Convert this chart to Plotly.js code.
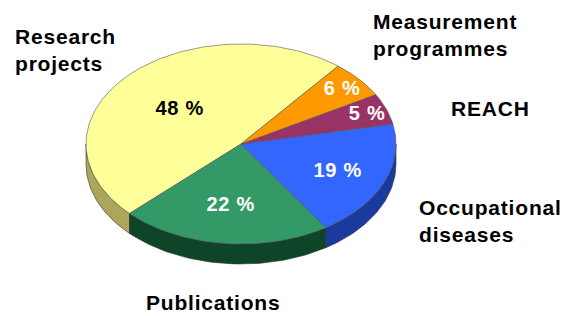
<!DOCTYPE html>
<html>
<head>
<meta charset="utf-8">
<script src="https://cdn.plot.ly/plotly-3.0.1.min.js"></script>
<style>
html,body{margin:0;padding:0;background:#fff;}
#chart{width:570px;height:316px;}
#chart .annotation-text{letter-spacing:0.8px;}
</style>
</head>
<body>
<div id="chart"></div>
<script>
// ---- data ----
var categories = ["Research projects", "Publications", "Occupational diseases", "REACH", "Measurement programmes"];
var values = [48, 22, 19, 5, 6];
var valueLabels = ["48 %", "22 %", "19 %", "5 %", "6 %"];
var categoryLabels = ["Research<br>projects", "Publications", "Occupational<br>diseases", "REACH", "Measurement<br>programmes"];

// ---- styles / layout ----
var topColors = ["#FFFF99", "#339966", "#3366FF", "#993366", "#FF9900"];
var sideColors = ["#ABA65A", "#0E4428", "#1B3A9E", "#5A1E3C", "#A86400"];
var valueFontColors = ["#000000", "#FFFFFF", "#FFFFFF", "#FFFFFF", "#FFFFFF"];
var labelRadius = [0.53, 0.6, 0.68, 0.87, 0.86];
var categoryPos = [[13, 50, "left"], [144, 302, "left"], [417, 221, "left"], [449, 108, "left"], [371, 35, "left"]];

var cx = 241, cy = 144, rx = 155, ry = 100, depth = 20;
var startDeg = 51.2;

function pt(deg, dy) {
  var r = deg * Math.PI / 180;
  return [cx + rx * Math.cos(r), cy - ry * Math.sin(r) + (dy || 0)];
}
function arc(a, b, dy) {
  var xs = [], ys = [], n = Math.max(4, Math.ceil(Math.abs(b - a) / 1.5));
  for (var i = 0; i <= n; i++) {
    var p = pt(a + (b - a) * i / n, dy);
    xs.push(p[0]); ys.push(p[1]);
  }
  return [xs, ys];
}

var total = values.reduce(function (s, v) { return s + v; }, 0);
var sideTraces = [], topTraces = [], annotations = [];
var acc = startDeg;
values.forEach(function (v, i) {
  var a = acc, b = acc + v / total * 360;
  acc = b;
  // side wall: visible where angle in [180,360] (mod 360)
  [[180, 360], [540, 720]].forEach(function (w) {
    var s = Math.max(a, w[0]), e = Math.min(b, w[1]);
    if (e > s) {
      var top = arc(s, e, 0), bot = arc(e, s, depth);
      sideTraces.push({
        type: "scatter", mode: "lines", fill: "toself",
        x: top[0].concat(bot[0]).concat([top[0][0]]),
        y: top[1].concat(bot[1]).concat([top[1][0]]),
        fillcolor: sideColors[i], line: {color: "#333333", width: 0.6},
        hoverinfo: "skip", showlegend: false
      });
    }
  });
  // top face
  var t = arc(a, b, 0);
  topTraces.push({
    type: "scatter", mode: "lines", fill: "toself",
    x: [cx].concat(t[0]).concat([cx]),
    y: [cy].concat(t[1]).concat([cy]),
    fillcolor: topColors[i], line: {color: "#555555", width: 0.6},
    name: categories[i], hoverinfo: "skip", showlegend: false
  });
  var mid = (a + b) / 2 * Math.PI / 180;
  annotations.push({
    x: cx + labelRadius[i] * rx * Math.cos(mid),
    y: cy - labelRadius[i] * ry * Math.sin(mid),
    xref: "x", yref: "y", text: "<b>" + valueLabels[i] + "</b>", showarrow: false,
    font: {family: "Arial, 'Liberation Sans', sans-serif", size: 20, color: valueFontColors[i]}
  });
  annotations.push({
    x: categoryPos[i][0], y: categoryPos[i][1], xref: "x", yref: "y",
    xanchor: categoryPos[i][2], yanchor: "middle", align: "left",
    text: "<b>" + categoryLabels[i] + "</b>", showarrow: false,
    font: {family: "Arial, 'Liberation Sans', sans-serif", size: 21, color: "#000000"}
  });
});

var layout = {
  width: 570, height: 316,
  margin: {l: 0, r: 0, t: 0, b: 0},
  paper_bgcolor: "#ffffff", plot_bgcolor: "#ffffff",
  xaxis: {range: [0, 570], visible: false, fixedrange: true},
  yaxis: {range: [316, 0], visible: false, fixedrange: true},
  annotations: annotations,
  showlegend: false
};
Plotly.newPlot("chart", sideTraces.concat(topTraces), layout, {staticPlot: true, displayModeBar: false});
</script>
</body>
</html>
